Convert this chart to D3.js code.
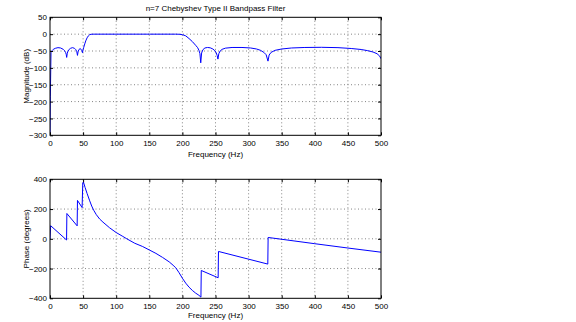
<!DOCTYPE html>
<html><head><meta charset="utf-8">
<script src="https://cdn.jsdelivr.net/npm/d3@7"></script>
<style>
body{margin:0;background:#fff;}
text{font-family:"Liberation Sans",Arial,sans-serif;font-size:8px;fill:#000;}
</style></head>
<body><svg id="c" width="576" height="322"></svg>
<script>
const title = "n=7 Chebyshev Type II Bandpass Filter";
const xTicks = [0,50,100,150,200,250,300,350,400,450,500];
const magTicks = [-300,-250,-200,-150,-100,-50,0,50];
const phaseTicks = [-400,-200,0,200,400];

const magFreq = [0,0.5,1.5,3,5,8,12,16,20,22,23.5,24.5,25.2,26,27,29,31,34,37,39,40.5,41.5,42.5,44,45.5,47,48.2,49,50,51,52.5,54,56,58,60,62,65,100,150,190,195,200,205,210,215,220,223,225,226.5,227.7,229,231,234,238,242,246,249,251,252.5,253.7,255,257,260,265,275,290,303,312,318,323,326.5,329.3,331,334,340,350,365,385,410,435,455,470,480,488,494,498,500];
const magDb = [-310,-186,-55,-49,-45,-42,-40,-41,-45,-49,-54,-60,-69,-58,-51,-45,-42,-40,-42,-46,-52,-63,-51,-45,-43,-45,-49,-55,-46,-39,-29,-20,-11,-5,-1.5,-0.3,0,0,0,0,-0.3,-1.5,-5,-13,-22,-33,-40,-48,-58,-85,-56,-46,-41,-39.5,-40.5,-44,-49,-55,-63,-74,-58,-50,-45,-41.5,-39.5,-39.5,-41,-44,-48,-54,-61,-80,-62,-54,-48,-44,-41,-39.5,-39,-40,-42.5,-45.5,-49,-53,-58,-65,-73];

const phaseFreq = [0,1,25,25.5,41,41.5,48.5,49.5,50.5,53,56,60,63,66,70,75,80,90,100,110,116,128,140,150,160,170,180,186,190,195,200,205,210,215,220,225,228,228.5,254,254.5,329,329.5,400,450,500];
const phaseDeg = [0,88,-8,170,87,258,210,375,382,345,305,255,220,192,162,133,112,74,42,16,0,-30,-52,-75,-98,-125,-155,-178,-195,-228,-265,-298,-325,-347,-365,-380,-392,-213,-262,-85,-170,9,-33,-62,-90];

const svg = d3.select("#c");
const L = 50, R = 381;
const x = d3.scaleLinear().domain([0,500]).range([L,R]);

function panel(yDomain, yTop, yBot, ticks, fx, fy, ylabel, xlabelY) {
  const y = d3.scaleLinear().domain(yDomain).range([yBot,yTop]);
  const g = svg.append("g");
  const id = "clip" + yTop;
  svg.append("clipPath").attr("id", id).append("rect")
    .attr("x", L).attr("y", yTop).attr("width", R-L).attr("height", yBot-yTop);
  // grid
  const grid = g.append("g").attr("stroke","#666").attr("stroke-width",0.8).attr("stroke-dasharray","1,2.5");
  xTicks.slice(1,-1).forEach(t => grid.append("line").attr("x1",x(t)).attr("x2",x(t)).attr("y1",yTop).attr("y2",yBot));
  ticks.slice(1,-1).forEach(t => grid.append("line").attr("x1",L).attr("x2",R).attr("y1",y(t)).attr("y2",y(t)));
  // line
  const pts = fx.map((f,i)=>[f,fy[i]]);
  g.append("path").datum(pts).attr("clip-path","url(#"+id+")")
    .attr("fill","none").attr("stroke","#0000ff").attr("stroke-width",1)
    .attr("d", d3.line().x(d=>x(d[0])).y(d=>y(d[1])));
  // axes
  const ax = (a) => a.call(s=>s.select(".domain").remove()).call(s=>s.selectAll("line").attr("stroke","#000"));
  g.append("g").attr("transform",`translate(0,${yBot})`).call(d3.axisBottom(x).tickValues(xTicks).tickSize(-3).tickPadding(5)).call(ax);
  g.append("g").attr("transform",`translate(0,${yTop})`).call(d3.axisTop(x).tickValues(xTicks).tickSize(-3).tickFormat("")).call(ax);
  g.append("g").attr("transform",`translate(${L},0)`).call(d3.axisLeft(y).tickValues(ticks).tickSize(-3).tickPadding(3)).call(ax);
  g.append("g").attr("transform",`translate(${R},0)`).call(d3.axisRight(y).tickValues(ticks).tickSize(-3).tickFormat("")).call(ax);
  g.selectAll(".tick text").attr("font-size",8).attr("font-family","Liberation Sans, Arial, sans-serif").attr("fill","#000");
  g.append("rect").attr("x",L).attr("y",yTop).attr("width",R-L).attr("height",yBot-yTop)
    .attr("fill","none").attr("stroke","#000").attr("stroke-width",1);
  g.append("text").attr("transform",`translate(26,${(yTop+yBot)/2}) rotate(-90)`)
    .attr("text-anchor","middle").attr("dy","0.35em").text(ylabel);
  g.append("text").attr("x",(L+R)/2).attr("y",xlabelY).attr("text-anchor","middle").text("Frequency (Hz)");
}

panel([-300,50], 17.3, 135.3, magTicks, magFreq, magDb, "Magnitude (dB)", 157);
panel([-400,400], 179.3, 298.3, phaseTicks, phaseFreq, phaseDeg, "Phase (degrees)", 318);
svg.append("text").attr("x",(L+R)/2).attr("y",11).attr("text-anchor","middle").text(title);
</script></body></html>
